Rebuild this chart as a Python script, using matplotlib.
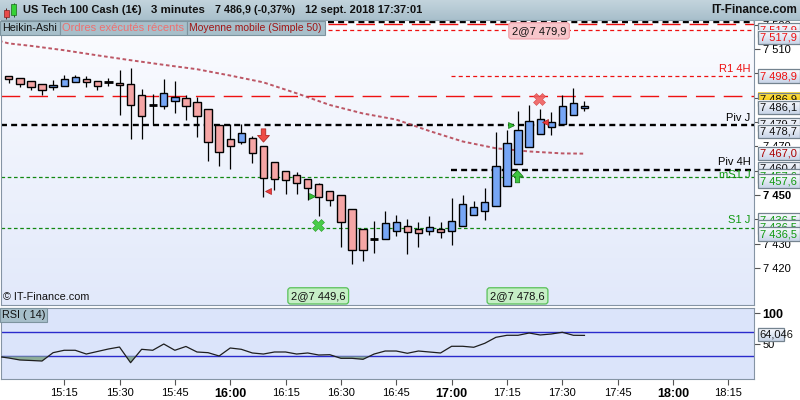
import numpy as np
import matplotlib
matplotlib.use("Agg")
import matplotlib.pyplot as plt
from matplotlib.patches import Rectangle
from matplotlib.path import Path
from matplotlib.colors import LinearSegmentedColormap
import matplotlib.transforms as mtransforms

plt.rcParams['font.family'] = ['Liberation Sans', 'DejaVu Sans']
plt.rcParams['lines.scale_dashes'] = False

# ---------------- data ----------------
opens = [7498.8, 7498.0, 7496.7, 7495.5, 7494.3, 7494.7, 7496.3, 7497.6, 7496.7, 7496.3,
         7495.9, 7495.5, 7491.0, 7486.9, 7486.5, 7488.8, 7489.7, 7488.1, 7485.2, 7478.6,
         7472.9, 7471.7, 7473.3, 7470.0, 7463.4, 7459.7, 7458.1, 7456.5, 7454.4, 7451.5,
         7449.9, 7444.1, 7435.9, 7431.8, 7431.8, 7435.1, 7437.1, 7435.9, 7435.1, 7435.9,
         7435.1, 7437.1, 7441.7, 7443.3, 7445.3, 7453.6, 7462.6, 7469.6, 7474.9, 7477.8,
         7479.0, 7482.8, 7485.6]
highs = [7498.8, 7498.0, 7496.7, 7495.5, 7497.1, 7499.2, 7499.2, 7498.8, 7496.7, 7498.0,
         7501.4, 7502.1, 7493.4, 7491.4, 7497.6, 7496.7, 7491.0, 7490.2, 7485.2, 7479.0,
         7479.0, 7479.0, 7474.1, 7470.0, 7463.4, 7459.7, 7459.3, 7456.5, 7454.8, 7451.5,
         7449.9, 7444.1, 7435.9, 7439.2, 7443.3, 7441.7, 7440.0, 7438.8, 7441.2, 7438.8,
         7448.6, 7449.9, 7447.4, 7452.8, 7475.8, 7476.6, 7484.4, 7486.9, 7485.2, 7484.0,
         7491.0, 7493.9, 7488.5]
lows = [7496.2, 7494.3, 7493.0, 7491.0, 7493.0, 7494.7, 7496.3, 7494.3, 7493.0, 7494.7,
        7482.8, 7472.9, 7472.9, 7478.6, 7485.2, 7483.6, 7480.7, 7473.7, 7463.9, 7461.8,
        7460.6, 7470.8, 7463.0, 7449.1, 7451.9, 7450.3, 7450.3, 7447.8, 7441.5, 7445.4,
        7428.5, 7421.5, 7422.8, 7426.0, 7431.8, 7433.0, 7425.6, 7428.5, 7433.4, 7432.2,
        7429.3, 7437.1, 7441.7, 7439.6, 7445.3, 7453.6, 7462.6, 7469.6, 7474.9, 7474.5,
        7479.0, 7482.8, 7484.4]
closes = [7497.6, 7495.5, 7494.3, 7493.0, 7495.1, 7497.6, 7498.4, 7496.3, 7494.7, 7496.3,
          7495.1, 7486.9, 7482.4, 7486.9, 7491.8, 7490.1, 7486.5, 7482.4, 7471.7, 7467.5,
          7470.0, 7475.4, 7467.1, 7456.9, 7456.4, 7456.0, 7454.8, 7452.8, 7449.1, 7447.8,
          7438.8, 7427.3, 7427.3, 7431.8, 7438.4, 7438.8, 7434.7, 7434.3, 7436.7, 7434.7,
          7439.2, 7446.2, 7444.9, 7447.0, 7461.8, 7471.3, 7476.6, 7480.3, 7481.1, 7479.9,
          7486.5, 7487.7, 7486.5]

ma_idx = [-1, 0, 2, 5, 8, 11, 14, 17, 20, 23, 26, 29, 32, 35, 38, 41, 44, 47, 50, 52]
ma_vals = [7513.5, 7512.3, 7511.3, 7509.5, 7507.4, 7505.4, 7503.5, 7501.7, 7499.1, 7496.3,
           7491.8, 7487.0, 7483.5, 7481.0, 7476.3, 7472.0, 7469.2, 7467.9, 7467.1, 7467.0]

rsi_idx = list(range(-1, 53))
rsi_vals = [29.7, 27.2, 24.0, 23.2, 22.3, 35.9, 39.8, 39.8, 33.7, 37.8, 41.9, 45.1, 19.6,
            41.4, 39.8, 50.0, 39.8, 46.0, 37.0, 35.9, 30.5, 43.5, 41.4, 35.4, 33.7, 37.0,
            37.0, 33.7, 35.4, 32.1, 32.6, 26.7, 26.7, 25.1, 33.7, 38.6, 38.6, 34.9, 38.6,
            37.0, 35.4, 46.3, 46.3, 44.7, 51.2, 60.9, 64.2, 64.2, 67.9, 64.7, 66.3, 69.1,
            64.2, 64.046]
rsi_last = 64.046

time_tick_idx = [5, 10, 15, 20, 25, 30, 35, 40, 45, 50, 55, 60, 65]
time_tick_labels = ["15:15", "15:30", "15:45", "16:00", "16:15", "16:30", "16:45",
                    "17:00", "17:15", "17:30", "17:45", "18:00", "18:15"]
bold_times = ["16:00", "17:00", "18:00"]

# horizontal levels
lvl_vals = [7521.0, 7520.3, 7517.9, 7498.9, 7490.7, 7478.7, 7460.4, 7457.6, 7436.5]
lvl_start = [28.8, 28.8, 28.8, 39.9, -1.0, -1.0, 39.9, -1.0, -1.0]
lvl_kind = ['black', 'redlong', 'redshort', 'redshort', 'redlong', 'black', 'black', 'green', 'green']
lvl_names = ['MR1 J', '', '', 'R1 4H', '', 'Piv J', 'Piv 4H', 'mS1 J', 'S1 J']

# orders
order_idx = [27.95, 45.95, 47.9]
order_prices = [7449.6, 7478.6, 7479.9]
order_qty = [2, 2, 2]
order_side = ['buy', 'buy', 'sell']

buy_tri_idx = [27.4, 45.4]
buy_tri_p = [7449.6, 7478.6]
sell_tri_idx = [23.4, 48.4]
sell_tri_p = [7451.6, 7479.9]
down_arrow = (23.0, 7474.5)
up_arrow = (45.9, 7458.0)
green_x = (27.9, 7437.5)
red_x = (47.9, 7489.4)

# right-hand price labels
rlab_vals = [7517.9, 7517.9, 7498.9, 7486.9, 7486.1, 7479.7, 7478.7, 7467.0, 7460.4, 7457.6,
             7457.6, 7436.5, 7436.5, 7436.5]
rlab_kind = ['red', 'red', 'red', 'last', 'black', 'black', 'black', 'ma', 'black', 'green',
             'green', 'green', 'green', 'green']
rlab_top = [23.3, 30.7, 69.3, 92.7, 100.7, 117.7, 125.0, 146.7, 161.7, 169.3, 174.3,
            213.3, 220.3, 227.3]


def fr(v, d=1):
    s = f"{v:,.{d}f}"
    return s.replace(",", " ").replace(".", ",")


# ---------------- figure ----------------
W_, H_ = 800, 400
fig = plt.figure(figsize=(8, 4), dpi=100)
fig.patch.set_facecolor('white')

def frect(x0, y0, x1, y1):
    return [x0 / W_, 1 - y1 / H_, (x1 - x0) / W_, (y1 - y0) / H_]

XL = (-0.75, 67.27)
ax = fig.add_axes(frect(0.5, 20, 753.5, 305))
YL = (7404.79, 7521.93)

def vgrad(axis, c_top, c_bot, extent, transform=None, z=-10):
    cm = LinearSegmentedColormap.from_list('g', [c_top, c_bot])
    g = np.linspace(0, 1, 64).reshape(-1, 1)
    kw = dict(extent=extent, aspect='auto', cmap=cm, origin='upper', zorder=z,
              interpolation='bilinear')
    if transform is not None:
        kw['transform'] = transform
    axis.imshow(g, **kw)

vgrad(ax, '#fbfcff', '#e2e9fa', (0, 1, 0, 1), transform=ax.transAxes)
ax.set_xlim(*XL)
ax.set_ylim(*YL)

spcol = '#8594a4'
for s in ax.spines.values():
    s.set_color(spcol)
    s.set_linewidth(0.8)
ax.spines['top'].set_visible(False)

styles = {
    'black': dict(color='black', lw=1.7, ls=(0, (4.3, 3.0))),
    'redlong': dict(color='#ee1111', lw=1.0, ls=(0, (13.5, 6.5))),
    'redshort': dict(color='#ee1111', lw=0.9, ls=(0, (2.9, 2.3))),
    'green': dict(color='#118811', lw=0.9, ls=(0, (2.6, 1.9))),
}
for v, st, k in zip(lvl_vals, lvl_start, lvl_kind):
    ax.hlines(v, max(st, XL[0]), XL[1], zorder=2, **styles[k])

namecol = {'black': 'black', 'redlong': '#ee1111', 'redshort': '#ee1111', 'green': '#119911'}
name_dy = {'MR1 J': 0.8, 'R1 4H': 1.0, 'Piv J': 1.0, 'Piv 4H': 1.1, 'mS1 J': -1.3, 'S1 J': 1.0}
for v, k, nm in zip(lvl_vals, lvl_kind, lvl_names):
    if nm:
        ax.text(67.0, v + name_dy[nm], nm, ha='right', va='bottom', fontsize=8,
                color=namecol[k], zorder=7)

ax.plot(ma_idx, ma_vals, color='#b33a4a', lw=1.4, ls=(0, (2.6, 1.9)), alpha=0.85, zorder=2.5)

bull, bear = '#76a6f6', '#f5a5a5'
BW = 0.66
for i, (o, h, l, c) in enumerate(zip(opens, highs, lows, closes)):
    ax.vlines(i, l, h, color='black', lw=0.9, zorder=3)
    if abs(c - o) < 0.05:
        ax.hlines(o, i - 0.38, i + 0.38, color='black', lw=2.0, zorder=4)
    else:
        ax.add_patch(Rectangle((i - BW / 2, min(o, c)), BW, abs(c - o),
                               fc=bull if c > o else bear, ec='black', lw=1.0, zorder=4))

adown = Path([(-0.17, 0.5), (0.17, 0.5), (0.17, 0.0), (0.45, 0.0), (0, -0.5),
              (-0.45, 0.0), (-0.17, 0.0), (-0.17, 0.5)], closed=True)
aup = Path([(-0.17, -0.5), (0.17, -0.5), (0.17, 0.0), (0.45, 0.0), (0, 0.5),
            (-0.45, 0.0), (-0.17, 0.0), (-0.17, -0.5)], closed=True)
ax.plot([down_arrow[0]], [down_arrow[1]], marker=adown, ms=9.5, mfc='#ef4b45',
        mec='#b02a25', mew=0.6, ls='none', zorder=6)
ax.plot([up_arrow[0]], [up_arrow[1]], marker=aup, ms=9, mfc='#3ec63e',
        mec='#1d7f1d', mew=0.6, ls='none', zorder=6)
ax.plot(buy_tri_idx, buy_tri_p, marker='>', ms=5, mfc='#34c034', mec='#1a7a1a',
        mew=0.5, ls='none', zorder=6)
ax.plot(sell_tri_idx, sell_tri_p, marker='<', ms=5, mfc='#ee3b3b', mec='#a82020',
        mew=0.5, ls='none', zorder=6)
ax.plot([green_x[0]], [green_x[1]], marker='X', ms=9, mfc='#48cc48', mec='#2a9a2a',
        mew=0.4, ls='none', zorder=6)
ax.plot([red_x[0]], [red_x[1]], marker='X', ms=9, mfc='#f06060', mec='#d04040',
        mew=0.4, ls='none', zorder=6, alpha=0.9)

blend = mtransforms.blended_transform_factory(ax.transData, ax.transAxes)
for xi, p, q, sd in zip(order_idx, order_prices, order_qty, order_side):
    if sd == 'buy':
        yy, fc, ec = 0.032, '#c6efc6', '#58c058'
    else:
        yy, fc, ec = 0.962, '#f7c6cb', '#f0a4ac'
    ax.text(xi, yy, f"{q}@{fr(p)}", transform=blend, ha='center', va='center',
            fontsize=8, color='#111111', zorder=8,
            bbox=dict(boxstyle='round,pad=0.28,rounding_size=0.25', fc=fc, ec=ec, lw=0.9))

ax.yaxis.tick_right()
yt = list(range(7420, 7530, 10))
ax.set_yticks(yt)
ax.set_yticklabels([fr(v, 0) for v in yt])
ax.tick_params(axis='y', direction='out', length=4, width=0.8, color='#555555',
               labelsize=8, pad=2.5, labelcolor='black')
for t, v in zip(ax.get_yticklabels(), yt):
    if v % 50 == 0:
        t.set_fontweight('bold')
ax.set_xticks([])

# ---------------- RSI ----------------
rax = fig.add_axes(frect(0.5, 307.7, 753.5, 379))
rax.set_facecolor('#dbe4fa')
rax.set_xlim(*XL)
rax.set_ylim(-6.95, 109.1)
for s in rax.spines.values():
    s.set_color(spcol)
    s.set_linewidth(0.8)
rax.axhline(70, color='#2a2acc', lw=1.0, zorder=2)
rax.axhline(30, color='#2a2acc', lw=1.0, zorder=2)
r = np.array(rsi_vals)
rx = np.array(rsi_idx)
rax.fill_between(rx, r, 30, where=r < 30, interpolate=True, color='#86a88f', alpha=0.9,
                 lw=0, zorder=2.5)
rax.plot(rx, r, color='#1e1e1e', lw=0.9, zorder=3)
rax.yaxis.tick_right()
rax.set_yticks([50, 100])
rax.set_yticklabels(['50', '100'])
rax.tick_params(axis='y', direction='out', length=4, width=0.8, color='#555555',
                labelsize=8, pad=2.5)
rax.get_yticklabels()[1].set_fontweight('bold')
rax.get_yticklabels()[1].set_fontsize(9)
rax.set_xticks(time_tick_idx)
rax.set_xticklabels(time_tick_labels)
rax.tick_params(axis='x', direction='out', length=4, width=0.8, color='#555555',
                labelsize=8, pad=2.5)
for t in rax.get_xticklabels():
    if t.get_text() in bold_times:
        t.set_fontweight('bold')
        t.set_fontsize(9)

# ---------------- overlay ----------------
ov = fig.add_axes([0, 0, 1, 1], zorder=5)
ov.patch.set_alpha(0)
ov.axis('off')

vgrad(ov, '#c3d4dd', '#a8bfcb', (0, 800, 20, 0), z=1)
ov.hlines(20, 0, 800, color='#8ba0ab', lw=0.8, zorder=2)
ov.vlines(6.3, 8, 18.5, color='#552222', lw=0.7, zorder=3)
ov.add_patch(Rectangle((3.8, 10), 5, 7, fc='#e84a4a', ec='#802020', lw=0.5, zorder=4))
ov.vlines(13.5, 2.5, 17, color='#225522', lw=0.7, zorder=3)
ov.add_patch(Rectangle((11, 4), 5, 11, fc='#36d236', ec='#1a6a1a', lw=0.5, zorder=4))

# header texts with their target pixel spans
hdr = [(23, 141.5, "US Tech 100 Cash (1€)"), (151, 205, "3 minutes"),
       (215, 295.5, "7 486,9 (-0,37%)"), (305, 422, "12 sept. 2018 17:37:01")]
hdr_txt = []
for x0, x1, t in hdr:
    hdr_txt.append((ov.text(x0, 10.3, t, ha='left', va='center', fontsize=8,
                            fontweight='bold', color='#111111', zorder=5), x1 - x0))
itf = ov.text(797, 10.3, "IT-Finance.com", ha='right', va='center', fontsize=8.5,
              fontweight='bold', color='#111111', zorder=5)

leg = [(0, 59.5, "Heikin-Ashi", '#111111'), (60, 186.5, "Ordres exécutés récents", '#ee7070'),
       (187, 324.5, "Moyenne mobile (Simple 50)", '#a01414')]
leg_txt = []
for x0, x1, t, c in leg:
    ov.add_patch(Rectangle((x0, 20.5), x1 - x0, 14, fc='#a7bfca', ec='#7d949f', lw=0.8, zorder=3))
    leg_txt.append((ov.text(x0 + 2.2, 27.8, t, ha='left', va='center', fontsize=7.8,
                            color=c, zorder=4), x1 - x0 - 4.5))

ov.add_patch(Rectangle((0, 308.2), 47, 13.8, fc='#a7bfca', ec='#7d949f', lw=0.8, zorder=3))
ov.text(2.5, 315.3, "RSI ( 14)", ha='left', va='center', fontsize=7.8, color='#111111', zorder=4)

ov.text(3, 297.5, "© IT-Finance.com", ha='left', va='center', fontsize=7.8,
        color='#111111', zorder=4)

kcol = {'red': '#ee1111', 'black': '#111111', 'last': '#111111', 'ma': '#aa0000',
        'green': '#119911'}
z = 10
for v, k, top in zip(rlab_vals, rlab_kind, rlab_top):
    if k == 'last':
        vgrad(ov, '#ffe34a', '#f0c000', (757.5, 799.5, top + 13.4, top), z=z)
    else:
        vgrad(ov, '#fbfcff', '#c9d5e8', (757.5, 799.5, top + 13.4, top), z=z)
    ov.add_patch(Rectangle((757.5, top), 42, 13.4, fc='none', ec='#74838f', lw=0.9,
                           zorder=z + 0.5))
    ov.text(760, top + 7.0, fr(v), ha='left', va='center', fontsize=8, color=kcol[k],
            zorder=z + 0.6)
    z += 1

vgrad(ov, '#fbfcff', '#c9d5e8', (757.5, 783.5, 341, 327.5), z=z)
ov.add_patch(Rectangle((757.5, 327.5), 26, 13.5, fc='none', ec='#74838f', lw=0.9, zorder=z + 0.5))
ov.text(759, 334.5, f"{rsi_last:.3f}".replace(".", ","), ha='left', va='center',
        fontsize=8, color='#111111', zorder=z + 0.6)

ov.set_xlim(0, 800)
ov.set_ylim(400, 0)

# fit header / legend text widths to the reference spans
fig.canvas.draw()
rend = fig.canvas.get_renderer()
for t, target in hdr_txt + leg_txt:
    w = t.get_window_extent(renderer=rend).width
    if w > 0:
        fs = t.get_fontsize() * target / w
        t.set_fontsize(min(max(fs, 6.5), 10))

fig.savefig("out.png", dpi=100)
